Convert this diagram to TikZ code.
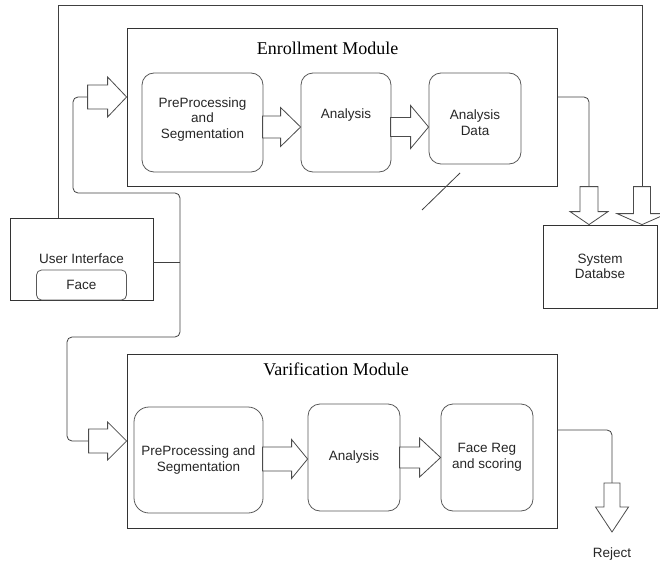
\documentclass[tikz,border=0pt]{standalone}
\usepackage{fontspec}
\setmainfont{Liberation Sans}
\newfontfamily\titlefont{Liberation Serif}
\usetikzlibrary{calc}
\tikzset{
	pics/rblock/.style args={#1/#2/#3/#4}{code={
		\draw[blk] (0,0)--(-#2,#4)--(-#2,#3)--(-#1,#3)--(-#1,-#3)--(-#2,-#3)--(-#2,-#4)--cycle;}},
	pics/dblock/.style args={#1/#2/#3/#4}{code={
		\draw[blk] (0,0)--(#4,-#2)--(#3,-#2)--(#3,-#1)--(-#3,-#1)--(-#3,-#2)--(-#4,-#2)--cycle;}},
}

\begin{document}
\begin{tikzpicture}[x=1pt,y=-1pt,
	txt/.style={align=center, inner sep=0pt, font=\fontsize{13.5}{15.5}\selectfont, text=black!85},
	box/.style={txt, draw=black!65, line width=.8pt, rounded corners=12pt},
	frame/.style={txt, draw=black!80, line width=.8pt},
	titletext/.style={inner sep=0pt, font=\titlefont\fontsize{18}{20}\selectfont},
	wire/.style={draw=black!75, line width=.8pt, rounded corners=5pt},
	blk/.style={draw=black!70, fill=white, line width=.8pt, line join=miter}]
\useasboundingbox (0,0) rectangle (660,564);
\clip (0,0) rectangle (660,564);
\node[frame, minimum width=430pt, minimum height=158pt] (enroll) at (342,107) {};
\node[titletext] (enrollT) at (327.5,48) {Enrollment Module};
\node[box, minimum width=121pt, minimum height=99pt, label={[txt, yshift=3pt]center:PreProcessing\\and\\Segmentation}] (ePre) at (202.5,122.5) {};
\node[box, minimum width=90pt, minimum height=99pt, label={[txt, yshift=7pt]center:Analysis}] (eAna) at (346,122.5) {};
\node[box, minimum width=92pt, minimum height=91pt, label={[txt, yshift=-4pt]center:Analysis\\Data}] (eData) at (475,118.5) {};
\node[frame, minimum width=430pt, minimum height=174pt] (verif) at (342,441) {};
\node[titletext] (verifT) at (336,369) {Varification Module};
\node[box, minimum width=129pt, minimum height=106pt, rounded corners=15pt] (vPre) at (198.5,460) {PreProcessing and\\Segmentation};
\node[box, minimum width=92pt, minimum height=107pt] (vAna) at (354,457.5) {Analysis};
\node[box, minimum width=92pt, minimum height=107pt] (vReg) at (487,457.5) {Face Reg\\and scoring};
\node[frame, minimum width=143pt, minimum height=82pt] (ui) at (81.5,259) {User Interface};
\node[box, rounded corners=5pt, minimum width=90pt, minimum height=30pt, anchor=south] (face) at (ui.south) {Face};
\node[frame, minimum width=114pt, minimum height=83pt] (db) at (600,266.5) {System\\Databse};
\node[txt] (reject) at (612,554) {Reject};
\coordinate (eIn) at ([shift={(-39pt,10pt)}]enroll.west);
\coordinate (vIn) at ([xshift=-38pt]verif.west);
\coordinate (junc) at (180,262);
\coordinate (rejTip) at (612,532);
\draw[wire] (eIn) -| (73,193) -| (180,337) -| (67,441) -- (vIn);
\draw[wire] ([yshift=-3pt]ui.east) -- (junc);
\draw[wire] ([yshift=10pt]enroll.east) -| ([xshift=-11pt,yshift=38pt]db.north);
\draw[wire, rounded corners=0pt] ([xshift=-23.5pt]ui.north) |- (642,5) -- ([xshift=42pt,yshift=38pt]db.north);
\draw[wire] ([yshift=11pt]verif.east) -| ([yshift=49pt]rejTip);
\draw[black!75, line width=.8pt] (460,173) -- (422,210);
\pic at ([yshift=10pt]enroll.west) {rblock=39/19/12/20};
\pic at ([yshift=-4.5pt]eAna.west) {rblock=38/20/11/19.5};
\pic at ([yshift=-8.5pt]eData.west) {rblock=38/18/9.5/21.5};
\pic at (verif.west) {rblock=38/19/12/19};
\pic at ([yshift=-1.5pt]vAna.west) {rblock=45/16/12/19.5};
\pic at (vReg.west) {rblock=41/21/10.5/19.5};
\pic at ([xshift=-11pt]db.north) {dblock=38/13/9/19};
\pic at ([xshift=42pt]db.north) {dblock=38/11/8.5/25};
\pic at (rejTip) {dblock=49/25/8/16.5};
\end{tikzpicture}
\end{document}
